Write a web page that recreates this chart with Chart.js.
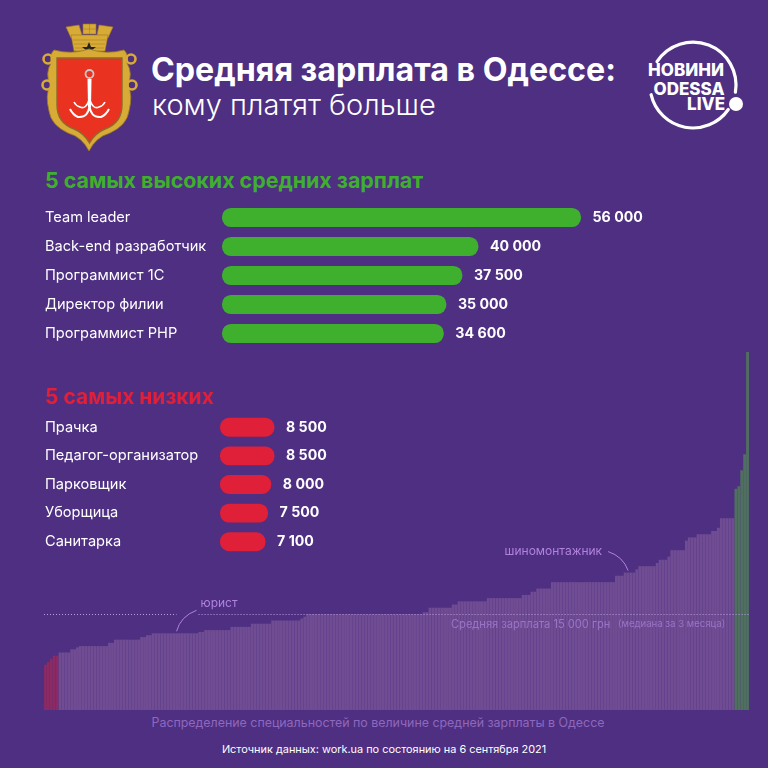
<!DOCTYPE html>
<html>
<head>
<meta charset="utf-8">
<script src="https://cdn.jsdelivr.net/npm/chart.js@4"></script>
<style>
html,body{margin:0;padding:0;background:#4e2f82;}
#page{position:relative;width:768px;height:768px;overflow:hidden;background:#4e2f82;font-family:Inter,sans-serif;color:#fff;}
#page canvas,#page svg,#page div{position:absolute;}
.title{left:151px;top:50px;font-size:32.2px;font-weight:700;white-space:nowrap;}
.subtitle{left:152px;top:87px;font-size:29px;font-weight:300;white-space:nowrap;}
.heading{left:45px;font-size:21.4px;font-weight:700;white-space:nowrap;}
.foot{left:0;width:768px;text-align:center;white-space:nowrap;}
</style>
</head>
<body>
<div id="page">
  <canvas id="graficoReparto" width="705" height="358" style="left:44px;top:352px"></canvas>
  <canvas id="graficoAltos" width="768" height="145" style="left:0;top:203px"></canvas>
  <canvas id="graficoBajos" width="768" height="143" style="left:0;top:413px"></canvas>

  <svg width="120" height="145" viewBox="0 0 120 145" style="left:30px;top:15px">
    <g fill="#d8aa36" stroke="#9c7a24" stroke-width=".6">
      <path d="M36 12 L49 10 L52 20 L41 23 Z"/>
      <path d="M53 9 L66 9 L66 19 L53 19 Z"/>
      <path d="M69 10 L83 12 L78 23 L67 20 Z"/>
      <path d="M41 20 L78 20 L75 36 L44 36 Z"/>
    </g>
    <path d="M43 25 H76 M44 29 H75 M45 33 H74 M59.500 9 V19 M53 14 H66" stroke="#9c7a24" stroke-width=".5" fill="none"/>
    <path d="M59 27 l2 5 5 0 -4 3 2 5 -5 -3 -5 3 2 -5 -4 -3 5 0 Z" fill="#222"/>
    <path d="M24 35 Q42 40 59 34 Q76 40 94 35 Q99 40 97 48 Q103 58 98 70 Q103 80 99 96 Q97 110 80 118 Q66 122 59 136 Q52 122 38 118 Q21 110 19 96 Q15 80 20 70 Q15 58 21 48 Q19 40 24 35 Z" fill="#d8aa36" stroke="#9c7a24" stroke-width=".8"/>
    <circle cx="18" cy="44" r="4.500" fill="none" stroke="#d8aa36" stroke-width="2.600"/>
    <circle cx="101" cy="44" r="4.500" fill="none" stroke="#d8aa36" stroke-width="2.600"/>
    <circle cx="17" cy="70" r="4.500" fill="none" stroke="#d8aa36" stroke-width="2.600"/>
    <circle cx="102" cy="70" r="4.500" fill="none" stroke="#d8aa36" stroke-width="2.600"/>
    <path d="M27 43 L92 43 L92 90 Q92 108 75 114 Q65 118 59.500 128 Q54 118 44 114 Q27 108 27 90 Z" fill="#e9321f" stroke="#8d6a2a" stroke-width="1.400"/>
    <circle cx="59.500" cy="59" r="4" fill="none" stroke="#c9c9c9" stroke-width="1.800"/>
    <path d="M57.500 64 L61.500 64 L61 92 L58 92 Z" fill="#fff"/>
    <path d="M59.500 91 Q58 103 48 102 Q43 100 40 94 M59.500 91 Q61 103 71 102 Q76 100 79 94" fill="none" stroke="#fff" stroke-width="2"/>
    <path d="M59.500 84 Q56 95 50 92 Q46 91 44 87 M59.500 84 Q63 95 69 92 Q73 91 75 87" fill="none" stroke="#fff" stroke-width="1.600"/>
  </svg>

  <div class="title">Средняя зарплата в Одессе:</div>
  <div class="subtitle">кому платят больше</div>

  <svg width="130" height="110" viewBox="0 0 130 110" style="left:630px;top:30px">
    <path d="M27 31.600 A43 43 0 0 1 105.400 62.200" fill="none" stroke="#fff" stroke-width="3.200" stroke-linecap="round"/>
    <path d="M98.300 79.500 A43 43 0 0 1 21.100 64.700" fill="none" stroke="#fff" stroke-width="3.200" stroke-linecap="round"/>
    <circle cx="106" cy="74" r="7" fill="#fff"/>
    <g fill="#fff" font-family="Inter,sans-serif" font-weight="800" font-size="17">
      <text x="56" y="46" text-anchor="middle">НОВИНИ</text>
      <text x="59" y="65" text-anchor="middle">ODESSA</text>
      <text x="95" y="80" text-anchor="end">LIVE</text>
    </g>
  </svg>

  <div class="heading" style="top:167px;color:#3fb02e">5 самых высоких средних зарплат</div>
  <div class="heading" style="top:384px;font-size:21px;color:#e01f38">5 самых низких</div>

  <div class="foot" style="left:-6px;top:715px;font-size:12.400px;color:#8f68bd">Распределение специальностей по величине средней зарплаты в Одессе</div>
  <div class="foot" style="top:742px;font-size:10.900px;color:#fff">Источник данных: work.ua по состоянию на 6 сентября 2021</div>
</div>

<script>
const puestosAltos = ['Team leader', 'Back-end разработчик', 'Программист 1С', 'Директор филии', 'Программист PHP'];
const salariosAltos = [56000, 40000, 37500, 35000, 34600];
const puestosBajos = ['Прачка', 'Педагог-организатор', 'Парковщик', 'Уборщица', 'Санитарка'];
const salariosBajos = [8500, 8500, 8000, 7500, 7100];

const salariosReparto = [
  7100, 7500, 8000, 8500, 8500,
  9000, 9000, 9000, 9000, 9500, 9500, 9800,
  10000, 10000, 10000, 10000, 10000, 10000, 10000, 10000, 10000, 10000,
  10500, 10500,
  11000, 11000, 11000, 11000, 11000, 11000, 11000, 11000, 11000,
  11400, 11400, 11700, 11700,
  12000, 12000, 12000, 12000, 12000, 12000, 12000, 12000,
  12000, 12000, 12000, 12000, 12000, 12000, 12000, 12000,
  12200, 12200,
  12500, 12500, 12500, 12500, 12500, 12500, 12500, 12500, 12500,
  13000, 13000, 13000, 13000, 13000, 13000, 13000,
  13500, 13500, 13500, 13500, 13500, 13500, 13500,
  14000, 14000, 14000, 14000, 14000, 14000, 14000, 14000, 14000, 14000,
  14300, 14600,
  15000, 15000, 15000, 15000, 15000, 15000, 15000, 15000, 15000, 15000,
  15000, 15000, 15000, 15000, 15000, 15000, 15000, 15000, 15000, 15000,
  15000, 15000, 15000, 15000, 15000, 15000, 15000, 15000, 15000, 15000,
  15000, 15000, 15000, 15000, 15000, 15000, 15000, 15000, 15000, 15000,
  15300, 15300,
  16000, 16000, 16000, 16000, 16000, 16000, 16000, 16000,
  16500, 16500,
  17000, 17000, 17000, 17000, 17000, 17000, 17000, 17000, 17000, 17000,
  17500, 17500, 17500, 17500, 17500, 17500, 17500, 17500, 17500, 17500, 17500, 17500,
  18000, 18000, 18000, 18500, 18500,
  19000, 19000, 19000, 19000, 19000,
  20000, 20000, 20000, 20000, 20000, 20000, 20000, 20000, 20000, 20000, 20000,
  20000, 20000, 20000, 20000, 20000, 20000, 20000, 20000, 20000, 20000, 20000,
  21000, 21000, 21000, 21500, 21500, 21500, 21500, 22000,
  22500, 22500, 22500, 22500, 22500, 22500,
  23000, 23500, 23500, 23500, 24000,
  25000, 25000, 25000, 25000, 25000,
  26500, 27000, 27000, 27000,
  27500, 27500, 27500, 27500, 27500,
  28000, 28000, 28500,
  30000, 30000, 30000, 30000, 30000,
  34600, 35000, 37500, 40000, 56000
];
const salarioMediano = 15000;
const indiceJurista = 45;
const indiceMontador = 200;

const fuente = 'Inter, sans-serif';
const maximo = 56000;

// Numeros a la derecha de cada barra
const pluginValores = {
  id: 'valores',
  afterDatasetsDraw(chart) {
    const c = chart.ctx;
    const datos = chart.data.datasets[0].data;
    c.save();
    c.fillStyle = '#fff';
    c.font = '700 14.2px ' + fuente;
    c.textBaseline = 'middle';
    chart.getDatasetMeta(0).data.forEach((barra, i) => {
      c.fillText(String(datos[i]).replace(/\B(?=(\d{3})+$)/g, ' '), barra.x + 11.5, barra.y);
    });
    c.restore();
  }
};

function graficoBarras(id, nombres, valores, color, anchoEje, derecha) {
  new Chart(document.getElementById(id), {
    type: 'bar',
    data: {
      labels: nombres,
      datasets: [{
        data: valores,
        backgroundColor: color,
        borderRadius: 9,
        borderSkipped: false,
        categoryPercentage: 1,
        barPercentage: 0.66
      }]
    },
    options: {
      indexAxis: 'y',
      responsive: false,
      animation: false,
      layout: { padding: { left: 45, right: derecha, top: 0, bottom: 0 } },
      plugins: { legend: { display: false }, tooltip: { enabled: false } },
      scales: {
        x: { display: false, min: 0, max: maximo },
        y: {
          afterFit(eje) {
            // sin esto las filas quedan mas juntas
            eje.width = anchoEje;
            eje.paddingTop = 0;
            eje.paddingBottom = 0;
          },
          grid: { display: false },
          border: { display: false },
          ticks: { crossAlign: 'far', color: '#fff', font: { family: fuente, size: 14.6 }, padding: 0 }
        }
      }
    },
    plugins: [pluginValores]
  });
}

graficoBarras('graficoAltos', puestosAltos, salariosAltos, '#3fb02e', 177, 187);
graficoBarras('graficoBajos', puestosBajos, salariosBajos, '#e01f38', 175, 189);

// Linea de la mediana y las notas sobre la distribucion
const pluginNotas = {
  id: 'notas',
  afterDatasetsDraw(chart) {
    const c = chart.ctx;
    const x = chart.scales.x;
    const y = chart.scales.y;
    const yMedia = Math.round(y.getPixelForValue(salarioMediano)) + 0.5;
    const xJ = x.getPixelForValue(indiceJurista);
    const yJ = y.getPixelForValue(salariosReparto[indiceJurista]);
    const xM = x.getPixelForValue(indiceMontador);
    const yM = y.getPixelForValue(salariosReparto[indiceMontador]);

    c.save();
    c.strokeStyle = '#b89ce0';
    c.lineWidth = 1;
    c.setLineDash([1, 2]);
    c.beginPath();
    c.moveTo(chart.chartArea.left, yMedia);
    c.lineTo(xJ, yMedia);
    c.moveTo(xJ + 22, yMedia);
    c.lineTo(chart.chartArea.right, yMedia);
    c.stroke();

    c.setLineDash([]);
    c.strokeStyle = '#b283dd';
    c.beginPath();
    c.moveTo(xJ, yJ - 2);
    c.quadraticCurveTo(xJ + 4, yJ - 17, xJ + 20, yJ - 23);
    c.moveTo(xM, yM - 2);
    c.quadraticCurveTo(xM - 5, yM - 16, xM - 20, yM - 21);
    c.stroke();

    c.textBaseline = 'middle';
    c.fillStyle = '#b283dd';
    c.font = '12px ' + fuente;
    c.textAlign = 'left';
    c.fillText('юрист', xJ + 24, yJ - 30);
    c.textAlign = 'right';
    c.fillText('шиномонтажник', xM - 26, yM - 21);

    c.textAlign = 'left';
    c.fillStyle = '#9b74c6';
    c.font = '11.1px ' + fuente;
    c.fillText('Средняя зарплата 15 000 грн', 407, yMedia + 10);
    c.font = '9.6px ' + fuente;
    c.fillText('(медиана за 3 месяца)', 574, yMedia + 10);
    c.restore();
  }
};

const coloresReparto = salariosReparto.map((_, i) => {
  if (i < 5) return '#8c2a63';
  if (i >= salariosReparto.length - 5) return '#50705f';
  return '#704c93';
});

new Chart(document.getElementById('graficoReparto'), {
  type: 'bar',
  data: {
    labels: salariosReparto.map((_, i) => i),
    datasets: [{
      data: salariosReparto,
      backgroundColor: coloresReparto,
      categoryPercentage: 1,
      barPercentage: 0.97
    }]
  },
  options: {
    responsive: false,
    animation: false,
    layout: { padding: 0 },
    plugins: { legend: { display: false }, tooltip: { enabled: false } },
    scales: {
      x: { display: false },
      y: { display: false, min: 0, max: maximo }
    }
  },
  plugins: [pluginNotas]
});
</script>
</body>
</html>
